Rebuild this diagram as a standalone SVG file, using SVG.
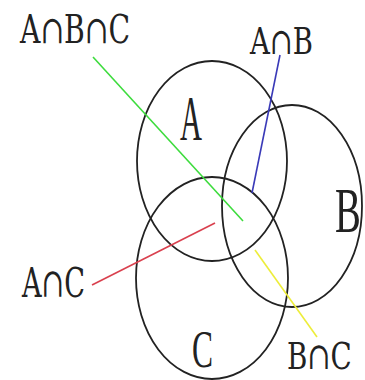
<svg xmlns="http://www.w3.org/2000/svg" width="365" height="380" viewBox="0 0 365 380">
<style>
.set{fill:none;stroke:#222;stroke-width:1.8}
.lbl{font-family:"Liberation Serif","DejaVu Serif",serif;fill:#222}
.sym{font-family:"DejaVu Serif","Liberation Serif",serif;fill:#222;font-weight:normal}
.ln{stroke-width:1.6;fill:none}
</style>
<rect width="365" height="380" fill="#fff"/>
<g id="setA"><ellipse class="set" cx="212" cy="161" rx="75" ry="100"/><text class="lbl" x="180" y="140" font-size="64" textLength="22" lengthAdjust="spacingAndGlyphs">A</text></g>
<g id="setB"><ellipse class="set" cx="292" cy="206" rx="70" ry="101"/><text class="lbl" transform="translate(335,232) scale(0.6,1)" x="0" y="0" font-size="64" textLength="43" lengthAdjust="spacingAndGlyphs">B</text></g>
<g id="setC"><ellipse class="set" cx="212" cy="278" rx="76" ry="101"/><text class="lbl" x="192" y="367" font-size="52" textLength="21" lengthAdjust="spacingAndGlyphs">C</text></g>
<g id="connectors">
<line class="ln" x1="93" y1="57" x2="243" y2="221" stroke="#3ddc3d"/>
<line class="ln" x1="280" y1="55" x2="252" y2="193" stroke="#3a3ab8"/>
<line class="ln" x1="92" y1="285" x2="215" y2="223" stroke="#d9404e"/>
<line class="ln" x1="255" y1="250" x2="317" y2="337" stroke="#eded3a"/>
</g>
<g id="labelABC"><text class="sym" x="20" y="43" font-size="39" textLength="110" lengthAdjust="spacingAndGlyphs">A∩B∩C</text></g>
<g id="labelAB"><text class="sym" x="250" y="54" font-size="37" textLength="63" lengthAdjust="spacingAndGlyphs">A∩B</text></g>
<g id="labelAC"><text class="sym" x="22" y="297" font-size="41" textLength="63" lengthAdjust="spacingAndGlyphs">A∩C</text></g>
<g id="labelBC"><text class="sym" transform="translate(287,369) scale(0.72,1)" x="0" y="0" font-size="38" textLength="90" lengthAdjust="spacingAndGlyphs">B∩C</text></g>
</svg>
